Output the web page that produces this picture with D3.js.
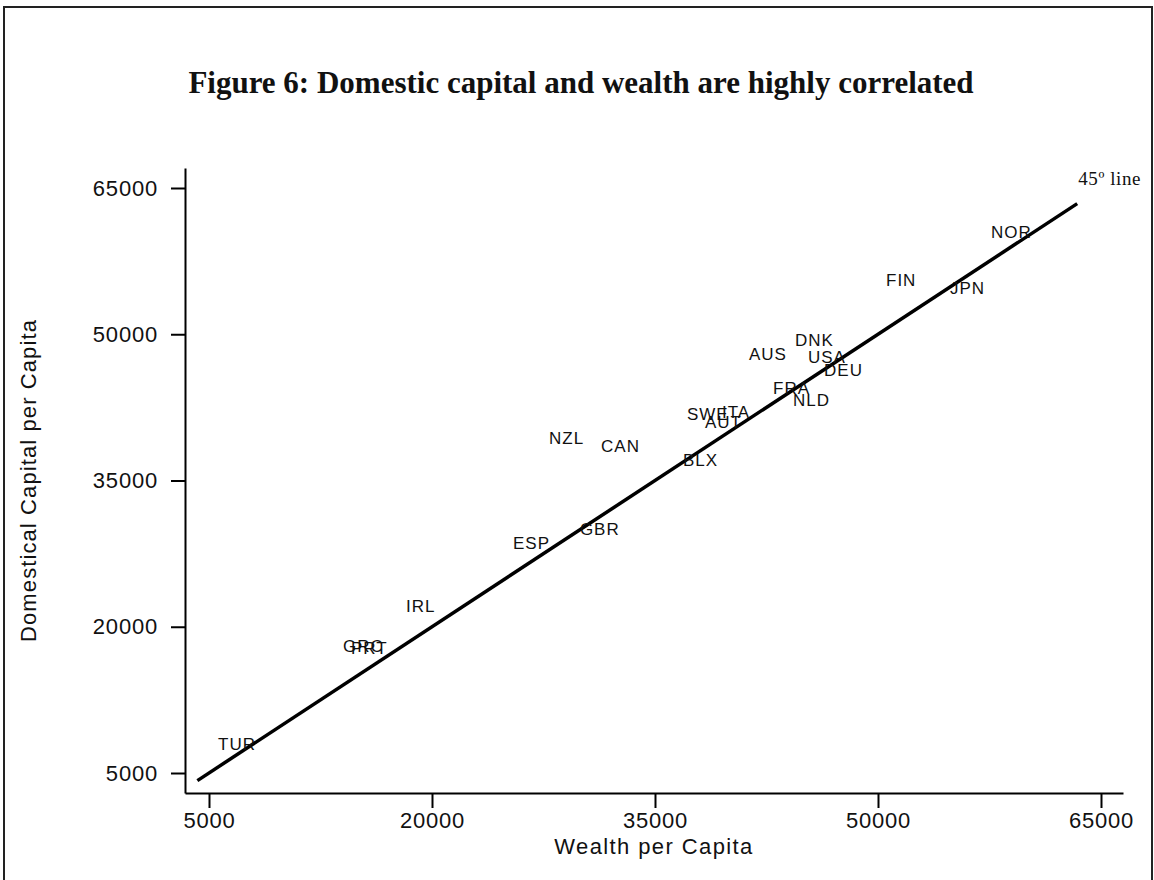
<!DOCTYPE html>
<html>
<head>
<meta charset="utf-8">
<script src="https://cdn.jsdelivr.net/npm/d3@7"></script>
<style>
  body { margin: 0; background: #fff; }
  text { fill: #111; }
</style>
</head>
<body>
<div id="chart-area"></div>
<script>
// Country codes with wealth per capita (x) and domestic capital per capita (y)
var countries = ["TUR", "GRC", "PRT", "IRL", "ESP", "GBR", "NZL", "CAN", "BLX", "SWE",
  "ITA", "AUT", "FRA", "NLD", "AUS", "DNK", "USA", "DEU", "FIN", "JPN", "NOR"];
var wealth = [5340, 13740, 14280, 17980, 25180, 29680, 27600, 31100, 36610, 36880,
  39240, 38090, 42670, 44010, 41050, 44150, 45020, 46100, 50270, 54570, 57330];
var capital = [7970, 18030, 17820, 22130, 28590, 30030, 39360, 38540, 37100, 41820,
  42020, 41000, 44490, 43260, 47970, 49410, 47670, 46330, 55560, 54740, 60490];

// 45 degree line end points
var lineRange = [4220, 63400];

// Tick labels
var xTicks = [5000, 20000, 35000, 50000, 65000];
var yTicks = [5000, 20000, 35000, 50000, 65000];

var data = countries.map(function(c, i) {
  return { name: c, x: wealth[i], y: capital[i] };
});

var W = 1154, H = 880;
var margin = { left: 185, right: 1123, top: 168, bottom: 793 };

var svg = d3.select("#chart-area").append("svg")
  .attr("width", W)
  .attr("height", H);

// outer frame
svg.append("path")
  .attr("d", "M4,885 V7 H1152 V885")
  .attr("fill", "none")
  .attr("stroke", "#222")
  .attr("stroke-width", 2);

// Title
svg.append("text")
  .attr("x", 581)
  .attr("y", 93)
  .attr("text-anchor", "middle")
  .attr("font-family", "Liberation Serif, Times New Roman, serif")
  .attr("font-weight", "bold")
  .attr("font-size", "31px")
  .text("Figure 6: Domestic capital and wealth are highly correlated");

// Scales
var x = d3.scaleLinear().domain([3386, 66480]).range([margin.left, margin.right]);
var y = d3.scaleLinear().domain([2949, 67051]).range([margin.bottom, margin.top]);

// Axes
var xAxisCall = d3.axisBottom(x)
  .tickValues(xTicks)
  .tickSize(15)
  .tickSizeOuter(0)
  .tickPadding(4)
  .tickFormat(d3.format("d"));
var yAxisCall = d3.axisLeft(y)
  .tickValues(yTicks)
  .tickSize(14)
  .tickSizeOuter(0)
  .tickPadding(13)
  .tickFormat(d3.format("d"));

var xAxis = svg.append("g")
  .attr("class", "x axis")
  .attr("transform", "translate(0," + margin.bottom + ")")
  .call(xAxisCall);
var yAxis = svg.append("g")
  .attr("class", "y axis")
  .attr("transform", "translate(" + margin.left + ",0)")
  .call(yAxisCall);

svg.selectAll(".axis path, .axis line")
  .attr("stroke", "#000")
  .attr("stroke-width", 2);
svg.selectAll(".axis text")
  .attr("font-family", "Liberation Sans, Arial, sans-serif")
  .attr("font-size", "22px")
  .attr("letter-spacing", "0.8px")
  .attr("fill", "#111");

// Axis labels
svg.append("text")
  .attr("x", (margin.left + margin.right) / 2)
  .attr("y", 854)
  .attr("text-anchor", "middle")
  .attr("font-family", "Liberation Sans, Arial, sans-serif")
  .attr("font-size", "22px")
  .attr("letter-spacing", "1.4px")
  .text("Wealth per Capita");

svg.append("text")
  .attr("transform", "rotate(-90)")
  .attr("x", -(margin.top + margin.bottom) / 2)
  .attr("y", 36)
  .attr("text-anchor", "middle")
  .attr("font-family", "Liberation Sans, Arial, sans-serif")
  .attr("font-size", "22px")
  .attr("letter-spacing", "1.1px")
  .text("Domestical Capital per Capita");

// 45 degree line
var line = d3.line()
  .x(function(d) { return x(d); })
  .y(function(d) { return y(d); });

svg.append("path")
  .attr("d", line(lineRange))
  .attr("fill", "none")
  .attr("stroke", "#000")
  .attr("stroke-width", 3.5);

svg.append("text")
  .attr("x", x(lineRange[1]) + 1)
  .attr("y", y(lineRange[1]) - 19)
  .attr("font-family", "Liberation Serif, Times New Roman, serif")
  .attr("font-size", "19px")
  .attr("letter-spacing", "0.6px")
  .text("45\u00ba line");

// Country labels (markers are invisible, label sits to the right)
svg.selectAll(".country")
  .data(data)
  .enter().append("text")
  .attr("class", "country")
  .attr("x", function(d) { return x(d.x) + 4; })
  .attr("y", function(d) { return y(d.y); })
  .attr("dy", "0.36em")
  .attr("font-family", "Liberation Sans, Arial, sans-serif")
  .attr("font-size", "17px")
  .attr("letter-spacing", "1px")
  .text(function(d) { return d.name; });
</script>
</body>
</html>
